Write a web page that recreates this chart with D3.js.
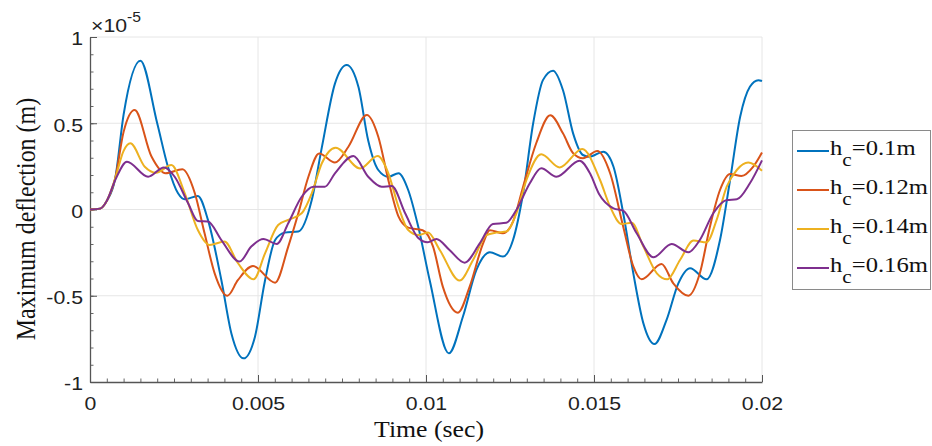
<!DOCTYPE html>
<html>
<head>
<meta charset="utf-8">
<script src="https://cdn.jsdelivr.net/npm/d3@7"></script>
<style>
  body { margin: 0; background: #fff; }
  svg { display: block; }
  .sans { font-family: "Liberation Sans", Arial, sans-serif; }
  .serif { font-family: "Liberation Serif", "Times New Roman", serif; }
</style>
</head>
<body>
<script>
// time in ms, deflection in units of 1e-5 m
var time01 = [0, 0.3, 0.5, 0.75, 1.0, 1.5, 2.0, 2.32, 2.62, 2.82, 3.21, 3.51, 3.91, 4.21, 4.57, 4.91, 5.2, 5.51, 5.8, 6.2, 6.6, 6.9, 7.29, 7.64, 7.99, 8.28, 8.58, 8.88, 9.18, 9.47, 9.77, 10.11, 10.68, 11.1, 11.5, 11.9, 12.29, 12.59, 12.89, 13.19, 13.48, 13.78, 14.08, 14.38, 14.67, 14.87, 15.28, 15.58, 15.87, 16.17, 16.47, 16.8, 17.16, 17.51, 17.86, 18.35, 18.75, 19.05, 19.35, 19.64, 19.89, 20];
var defl01 = [0, 0.005, 0.05, 0.18, 0.55, 0.863, 0.5, 0.248, 0.094, 0.059, 0.078, -0.06, -0.41, -0.72, -0.863, -0.737, -0.42, -0.177, -0.134, -0.128, 0.055, 0.36, 0.73, 0.838, 0.71, 0.40, 0.229, 0.19, 0.21, 0.113, -0.10, -0.41, -0.834, -0.62, -0.35, -0.248, -0.273, -0.177, 0.094, 0.50, 0.75, 0.805, 0.69, 0.44, 0.316, 0.306, 0.335, 0.248, -0.022, -0.37, -0.66, -0.78, -0.64, -0.428, -0.34, -0.405, -0.177, 0.171, 0.538, 0.712, 0.75, 0.745];

var time012 = [0, 0.3, 0.5, 0.75, 1.0, 1.33, 1.83, 2.25, 2.75, 3.12, 3.41, 3.71, 4.09, 4.40, 4.85, 5.51, 5.9, 6.2, 6.5, 6.82, 7.29, 7.69, 8.24, 8.58, 8.88, 9.18, 9.47, 9.9, 10.21, 10.5, 10.95, 11.3, 11.7, 11.9, 12.29, 12.59, 12.89, 13.28, 13.7, 14.08, 14.38, 14.67, 15.1, 15.48, 15.87, 16.17, 16.42, 17.01, 17.36, 17.81, 18.15, 18.45, 18.75, 19.05, 19.39, 19.74, 20];
var defl012 = [0, 0.005, 0.05, 0.18, 0.45, 0.577, 0.307, 0.21, 0.233, 0.094, -0.138, -0.37, -0.50, -0.41, -0.328, -0.424, -0.215, -0.022, 0.19, 0.325, 0.272, 0.364, 0.548, 0.422, 0.17, -0.04, -0.105, -0.12, -0.215, -0.447, -0.598, -0.447, -0.196, -0.12, -0.138, -0.07, 0.132, 0.384, 0.546, 0.44, 0.326, 0.297, 0.339, 0.21, -0.10, -0.33, -0.405, -0.316, -0.428, -0.50, -0.37, -0.10, 0.113, 0.206, 0.194, 0.248, 0.33];

var time014 = [0, 0.3, 0.5, 0.75, 1.0, 1.2, 1.63, 1.97, 2.42, 2.82, 3.21, 3.56, 4.0, 4.40, 4.87, 5.21, 5.6, 5.9, 6.3, 6.6, 6.9, 7.31, 8.04, 8.56, 8.88, 9.18, 9.47, 9.77, 10.06, 10.41, 11.0, 11.4, 11.8, 12.09, 12.39, 12.69, 12.99, 13.43, 13.98, 14.65, 15.18, 15.48, 15.82, 16.12, 16.47, 16.87, 17.18, 17.56, 17.96, 18.35, 18.65, 18.95, 19.25, 19.59, 20];
var defl014 = [0, 0.005, 0.05, 0.18, 0.34, 0.384, 0.248, 0.213, 0.258, 0.094, -0.119, -0.206, -0.186, -0.31, -0.405, -0.254, -0.09, -0.06, -0.022, 0.094, 0.268, 0.358, 0.238, 0.31, 0.21, 0.016, -0.119, -0.148, -0.134, -0.235, -0.412, -0.293, -0.148, -0.134, -0.128, -0.022, 0.171, 0.32, 0.244, 0.351, 0.171, 0.016, -0.084, -0.077, -0.215, -0.37, -0.405, -0.293, -0.18, -0.19, -0.06, 0.132, 0.229, 0.272, 0.225];

var time016 = [0, 0.3, 0.5, 0.75, 1.1, 1.73, 2.2, 2.52, 2.92, 3.21, 3.51, 3.91, 4.45, 4.8, 5.16, 5.56, 5.9, 6.3, 6.65, 6.99, 7.29, 7.84, 8.28, 8.68, 8.98, 9.38, 9.77, 10.05, 10.31, 10.70, 11.15, 11.6, 11.99, 12.39, 12.69, 13.09, 13.43, 13.88, 14.57, 14.88, 15.15, 15.58, 15.87, 16.27, 16.77, 17.31, 17.81, 18.15, 18.55, 18.95, 19.25, 19.64, 20];
var defl016 = [0, 0.005, 0.05, 0.17, 0.277, 0.19, 0.244, 0.19, 0.036, -0.067, -0.07, -0.177, -0.302, -0.215, -0.171, -0.2, -0.08, 0.074, 0.132, 0.132, 0.21, 0.31, 0.19, 0.132, 0.136, -0.022, -0.165, -0.19, -0.171, -0.235, -0.308, -0.196, -0.084, -0.077, -0.003, 0.152, 0.239, 0.19, 0.283, 0.21, 0.09, 0.007, -0.007, -0.138, -0.277, -0.2, -0.248, -0.177, -0.022, 0.055, 0.059, 0.152, 0.285];

var seriesNames = ['0.1m', '0.12m', '0.14m', '0.16m'];
var seriesColors = ['#0072BD', '#D95319', '#EDB120', '#7E2F8E'];
var xTicks = [0, 0.005, 0.01, 0.015, 0.02];
var xTickLabels = ['0', '0.005', '0.01', '0.015', '0.02'];
var yTicks = [-1, -0.5, 0, 0.5, 1];
var yTickLabels = ['-1', '-0.5', '0', '0.5', '1'];

var width = 932, height = 446;
var plotLeft = 90, plotRight = 762, plotTop = 37, plotBottom = 382;
var sx = 1.12; // picture is a little wider than tall

var svg = d3.select('body').append('svg')
    .attr('width', width)
    .attr('height', height);

var x = d3.scaleLinear().domain([0, 0.02]).range([plotLeft, plotRight]);
var y = d3.scaleLinear().domain([-1, 1]).range([plotBottom, plotTop]);

// grid
svg.append('g').selectAll('line')
    .data(xTicks.slice(1))
    .enter().append('line')
    .attr('x1', function(d) { return x(d); })
    .attr('x2', function(d) { return x(d); })
    .attr('y1', plotTop).attr('y2', plotBottom)
    .attr('stroke', '#e6e6e6').attr('stroke-width', 1);
svg.append('g').selectAll('line')
    .data(yTicks.slice(1))
    .enter().append('line')
    .attr('x1', plotLeft).attr('x2', plotRight)
    .attr('y1', function(d) { return y(d); })
    .attr('y2', function(d) { return y(d); })
    .attr('stroke', '#e6e6e6').attr('stroke-width', 1);

// minor ticks
var xMinor = d3.range(0, 41).map(function(i) { return i * 0.0005; });
var yMinor = d3.range(-10, 11).map(function(i) { return i / 10; });

svg.append('g')
    .attr('transform', 'translate(0,' + plotBottom + ')')
    .call(d3.axisBottom(x).tickValues(xMinor).tickSize(-3.5).tickFormat(''))
    .call(function(g) { g.select('.domain').remove(); })
    .selectAll('line').attr('stroke', '#666');
svg.append('g')
    .attr('transform', 'translate(' + plotLeft + ',0)')
    .call(d3.axisLeft(y).tickValues(yMinor).tickSize(-3.5).tickFormat(''))
    .call(function(g) { g.select('.domain').remove(); })
    .selectAll('line').attr('stroke', '#666');

// major axes
var xAxis = svg.append('g')
    .attr('transform', 'translate(0,' + plotBottom + ')')
    .call(d3.axisBottom(x).tickValues(xTicks).tickSizeInner(-7).tickSizeOuter(0)
        .tickFormat(function(d, i) { return xTickLabels[i]; }));
xAxis.attr('font-family', null);
xAxis.select('.domain').attr('stroke', '#555').attr('stroke-width', 1.3);
xAxis.selectAll('line').attr('stroke', '#555');
xAxis.selectAll('text')
    .attr('class', 'sans')
    .attr('y', 0).attr('dy', 0)
    .attr('transform', 'translate(0,28) scale(' + sx + ',1)')
    .attr('font-size', 19).attr('fill', '#222');

var yAxis = svg.append('g')
    .attr('transform', 'translate(' + plotLeft + ',0)')
    .call(d3.axisLeft(y).tickValues(yTicks).tickSizeInner(-7).tickSizeOuter(0)
        .tickFormat(function(d, i) { return yTickLabels[i]; }));
yAxis.attr('font-family', null);
yAxis.select('.domain').attr('stroke', '#555').attr('stroke-width', 1.3);
yAxis.selectAll('line').attr('stroke', '#555');
yAxis.selectAll('text')
    .attr('class', 'sans')
    .attr('x', 0).attr('dy', '0.36em')
    .attr('transform', 'translate(-7,1) scale(' + sx + ',1)')
    .attr('font-size', 19).attr('fill', '#222');

// exponent
var expo = svg.append('text')
    .attr('class', 'sans')
    .attr('transform', 'translate(91,32) scale(' + sx + ',1)')
    .attr('font-size', 19).attr('fill', '#222');
expo.append('tspan').text('\u00d710');
expo.append('tspan').attr('dy', -10).attr('font-size', 14).text('-5');

// lines
var line = d3.line()
    .x(function(d) { return x(d[0] / 1000); })
    .y(function(d) { return y(d[1]); })
    .curve(d3.curveMonotoneX);

var allT = [time01, time012, time014, time016];
var allD = [defl01, defl012, defl014, defl016];

svg.append('g').selectAll('path')
    .data(allT.map(function(t, i) { return d3.zip(t, allD[i]); }))
    .enter().append('path')
    .attr('d', line)
    .attr('fill', 'none')
    .attr('stroke', function(d, i) { return seriesColors[i]; })
    .attr('stroke-width', 2);

// axis labels
svg.append('text')
    .attr('class', 'serif')
    .attr('transform', 'translate(429,437) scale(' + sx + ',1)')
    .attr('text-anchor', 'middle')
    .attr('font-size', 23).attr('fill', '#111')
    .text('Time (sec)');

svg.append('text')
    .attr('class', 'serif')
    .attr('transform', 'translate(35,219) scale(' + sx + ',1) rotate(-90)')
    .attr('text-anchor', 'middle')
    .attr('font-size', 24).attr('fill', '#111')
    .text('Maximum deflection (m)');

// legend
var legend = svg.append('g');
legend.append('rect')
    .attr('x', 792.5).attr('y', 130.5)
    .attr('width', 138).attr('height', 159)
    .attr('fill', '#fff').attr('stroke', '#8a8a8a').attr('stroke-width', 1);

var item = legend.selectAll('g.item')
    .data(seriesNames)
    .enter().append('g')
    .attr('class', 'item')
    .attr('transform', function(d, i) { return 'translate(0,' + (151 + i * 39) + ')'; });
item.append('line')
    .attr('x1', 797).attr('x2', 829)
    .attr('stroke', function(d, i) { return seriesColors[i]; })
    .attr('stroke-width', 2);
var lt = item.append('text')
    .attr('class', 'serif')
    .attr('transform', 'translate(830,4) scale(' + sx + ',1)')
    .attr('font-size', 22).attr('fill', '#111');
lt.append('tspan').text('h');
lt.append('tspan').attr('dy', 11).attr('font-size', 19).text('c');
lt.append('tspan').attr('dy', -11).text(function(d) { return '=' + d; });
</script>
</body>
</html>
